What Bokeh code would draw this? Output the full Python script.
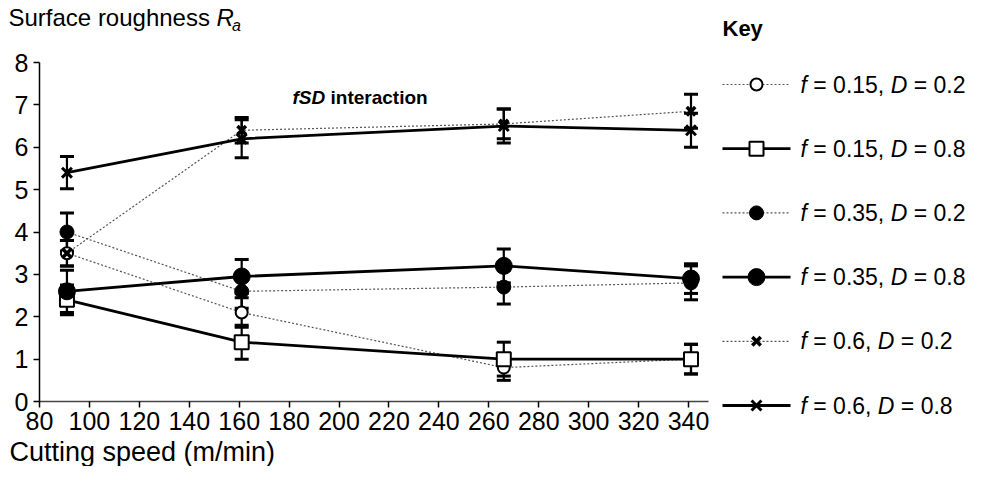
from bokeh.plotting import figure
from bokeh.models import ColumnDataSource, Range1d, FixedTicker
from bokeh.embed import file_html
from bokeh.resources import INLINE
from bokeh.core.properties import value

FONT = "Liberation Sans"

# ---------------- data ----------------
speed = [91, 161, 266, 341]
x_ticks = [80, 100, 120, 140, 160, 180, 200, 220, 240, 260, 280, 300, 320, 340]
y_ticks = [0, 1, 2, 3, 4, 5, 6, 7, 8]

f_vals = ["0.15", "0.15", "0.35", "0.35", "0.6", "0.6"]
d_vals = ["0.2", "0.8", "0.2", "0.8", "0.2", "0.8"]

ra_f015_d02 = [3.5, 2.1, 0.8, 1.0]
err_f015_d02 = [0.3, 0.35, 0.3, 0.35]
ra_f015_d08 = [2.4, 1.4, 1.0, 1.0]
err_f015_d08 = [0.35, 0.4, 0.4, 0.35]
ra_f035_d02 = [4.0, 2.6, 2.7, 2.8]
err_f035_d02 = [0.45, 0.4, 0.4, 0.4]
ra_f035_d08 = [2.6, 2.95, 3.2, 2.9]
err_f035_d08 = [0.5, 0.4, 0.4, 0.35]
ra_f06_d02 = [3.5, 6.4, 6.55, 6.85]
err_f06_d02 = [0.3, 0.3, 0.35, 0.4]
ra_f06_d08 = [5.4, 6.2, 6.5, 6.4]
err_f06_d08 = [0.38, 0.45, 0.4, 0.4]

series_y = [ra_f015_d02, ra_f015_d08, ra_f035_d02, ra_f035_d08, ra_f06_d02, ra_f06_d08]
series_e = [err_f015_d02, err_f015_d08, err_f035_d02, err_f035_d08, err_f06_d02, err_f06_d08]

# styles: (dotted?, marker, size, fill, marker line width)
styles = [
    (True, "circle", 12, "white", 2),
    (False, "square", 14, "white", 2),
    (True, "circle", 14, "black", 1),
    (False, "circle", 17, "black", 1),
    (True, "x", 12, "black", 3.5),
    (False, "x", 14, "black", 3),
]

def line_kw(dotted):
    if dotted:
        return dict(line_color="#555555", line_width=1.2, line_dash="2 2")
    return dict(line_color="black", line_width=2.8)

# ---------------- geometry (canvas pixels) ----------------
CW, CH = 969, 466
PX_X80, PX_X340 = 39.0, 688.0      # canvas x of speed 80 and 340
PY_Y0, PY_Y8 = 401.0, 62.0         # canvas y (from top) of Ra 0 and 8
kx = (PX_X340 - PX_X80) / 260.0
ky = (PY_Y0 - PY_Y8) / 8.0
x_start = 80.0 - PX_X80 / kx
x_end = x_start + CW / kx
y_end = PY_Y0 / ky
y_start = y_end - CH / ky

def dx(px):
    return x_start + px / kx

def dy(py):
    return y_end - py / ky

p = figure(width=CW, height=CH, output_backend="svg", toolbar_location=None,
           x_range=Range1d(x_start, x_end), y_range=Range1d(y_start, y_end),
           min_border=0)
p.grid.visible = False
p.outline_line_color = None
p.background_fill_color = "white"

for ax in (p.xaxis[0], p.yaxis[0]):
    ax.axis_line_color = "black"
    ax.axis_line_width = 1.5
    ax.major_tick_line_width = 1.5
    ax.major_tick_in = 0
    ax.major_tick_out = 6
    ax.minor_tick_line_color = None
    ax.major_label_text_font = FONT
    ax.major_label_text_font_size = "25px"
    ax.major_label_text_color = "black"
p.xaxis[0].ticker = FixedTicker(ticks=x_ticks)
p.yaxis[0].ticker = FixedTicker(ticks=y_ticks)
p.xaxis[0].fixed_location = 0
p.yaxis[0].fixed_location = 80
p.xaxis[0].bounds = (80, 348)
p.yaxis[0].bounds = (0, 8)
p.xaxis[0].major_label_standoff = 4
p.yaxis[0].major_label_standoff = 5
p.xaxis[0].axis_line_color = "#444444"

# lines: dotted first, then solid
for i in [0, 2, 4, 1, 3, 5]:
    p.line(speed, series_y[i], **line_kw(styles[i][0]))

# error bars
for i in range(6):
    lo = [y - e for y, e in zip(series_y[i], series_e[i])]
    hi = [y + e for y, e in zip(series_y[i], series_e[i])]
    src = ColumnDataSource(dict(x=speed, lo=lo, hi=hi))
    p.segment(x0="x", y0="lo", x1="x", y1="hi", source=src, line_color="black", line_width=2.2)
    p.scatter(x="x", y="lo", source=src, marker="dash", size=14, line_color="black", line_width=3)
    p.scatter(x="x", y="hi", source=src, marker="dash", size=14, line_color="black", line_width=3)

# markers
for i in range(6):
    dotted, mk, sz, fill, lw = styles[i]
    p.scatter(speed, series_y[i], marker=mk, size=sz, fill_color=fill,
              line_color="black", line_width=lw)

# ---------------- texts ----------------
WID = {'f': 0.278, ' ': 0.278, '\u00a0': 0.278, '=': 0.584, '.': 0.278, ',': 0.278, 'D': 0.722,
       'R': 0.722, 'S': 0.667, 'r': 0.333, 'c': 0.5, 's': 0.5, 'a': 0.556}
def tw(s, fs):
    return sum(WID.get(c, 0.556) for c in s) * fs

def txt(px, py, s, size, style="normal"):
    p.text(x=[dx(px)], y=[dy(py)], text=[s], text_font=value(FONT), text_font_size=f"{size}px",
           text_font_style=style, text_baseline="middle", text_align="left", text_color="black")

# title
TFS = 24
t0 = "Surface roughness\u00a0"
txt(8, 17, t0, TFS)
rx = 8 + tw(t0, TFS)
txt(rx, 17, "R", TFS, "italic")
txt(rx + tw("R", TFS) - 2, 25, "a", 16, "italic")

# x axis title
txt(9, 451, "Cutting speed (m/min)", 27)

# annotation
txt(292, 97, "fSD", 19, "bold italic")
txt(292 + 38, 97, "interaction", 19, "bold")

# legend
txt(722, 28, "Key", 22, "bold")
FS = 23
row0 = 84.0
step = 64.2
for i in range(6):
    py = row0 + i * step
    dotted, mk, sz, fill, lw = styles[i]
    p.line([dx(722), dx(790)], [dy(py), dy(py)], **line_kw(dotted))
    p.scatter([dx(756)], [dy(py)], marker=mk, size=sz, fill_color=fill, line_color="black", line_width=lw)
    parts = [("f", "italic"), ("\u00a0=\u00a0" + f_vals[i] + ",\u00a0", "normal"),
             ("D", "italic"), ("\u00a0=\u00a0" + d_vals[i], "normal")]
    cx = 800.0
    for s, st in parts:
        txt(cx, py, s, FS, st)
        cx += tw(s, FS)

open("out.html", "w").write(file_html(p, INLINE))
